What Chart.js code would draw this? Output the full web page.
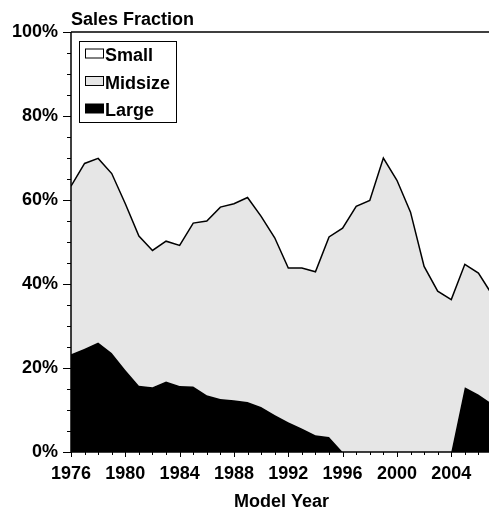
<!DOCTYPE html>
<html>
<head>
<meta charset="utf-8">
<script src="https://cdn.jsdelivr.net/npm/chart.js@4.4.1/dist/chart.umd.min.js"></script>
<style>
  html, body { margin: 0; padding: 0; background: #fff; overflow: hidden; }
  #wrap { width: 493px; height: 512px; }
</style>
</head>
<body>
<div id="wrap"><canvas id="salesChart" width="493" height="512"></canvas></div>
<script>
// model years
const years = [1976, 1977, 1978, 1979, 1980, 1981, 1982, 1983, 1984, 1985, 1986,
    1987, 1988, 1989, 1990, 1991, 1992, 1993, 1994, 1995, 1996, 1997, 1998, 1999,
    2000, 2001, 2002, 2003, 2004, 2005, 2006, 2007];

// sales fraction (%) per size class, bottom to top
const large = [23.3, 24.6, 26.1, 23.6, 19.5, 15.8, 15.4, 16.8, 15.7, 15.6, 13.5,
    12.6, 12.3, 11.9, 10.7, 8.8, 7.1, 5.6, 4.0, 3.6, 0, 0, 0, 0,
    0, 0, 0, 0, 0, 15.4, 13.7, 11.5];
const midsize = [40.0, 44.1, 43.8, 42.7, 39.6, 35.6, 32.6, 33.4, 33.5, 38.9, 41.5,
    45.7, 46.8, 48.7, 45.4, 42.2, 36.7, 38.2, 38.9, 47.6, 53.3, 58.5, 59.9, 70.0,
    64.7, 57.1, 44.2, 38.3, 36.3, 29.3, 28.9, 26.0];
const small = [36.7, 31.3, 30.1, 33.7, 40.9, 48.6, 52.0, 49.8, 50.8, 45.5, 45.0,
    41.7, 40.9, 39.4, 43.9, 49.0, 56.2, 56.2, 57.1, 48.8, 46.7, 41.5, 40.1, 30.0,
    35.3, 42.9, 55.8, 61.7, 63.7, 55.3, 57.4, 62.5];

// legend order as shown in the box
const legendLabels = ['Small', 'Midsize', 'Large'];

const FAMILY = '"Liberation Sans", Arial, sans-serif';
const FONT = 'bold 18px ' + FAMILY;

const toPoints = arr => arr.map((v, i) => ({ x: years[i], y: v }));

// tick marks, frame, title and legend box
const extras = {
    id: 'extras',
    afterDraw(chart) {
        const ctx = chart.ctx;
        const xs = chart.scales.x, ys = chart.scales.y;
        const area = chart.chartArea;
        ctx.save();
        ctx.strokeStyle = '#000';
        ctx.lineWidth = 1.5;

        // frame: left, bottom, top
        ctx.beginPath();
        ctx.moveTo(area.left, area.top);
        ctx.lineTo(area.left, area.bottom);
        ctx.lineTo(area.right + 2, area.bottom);
        ctx.moveTo(area.left, area.top);
        ctx.lineTo(area.right + 2, area.top);
        ctx.stroke();

        // y ticks every 5%
        ctx.lineWidth = 1;
        ctx.beginPath();
        for (let v = 0; v <= 100; v += 5) {
            const py = Math.round(ys.getPixelForValue(v)) + 0.5;
            const len = v % 20 === 0 ? 8 : 4;
            ctx.moveTo(area.left - len, py);
            ctx.lineTo(area.left, py);
        }
        // x ticks every year
        for (let yr = years[0]; yr <= years[years.length - 1]; yr++) {
            const px = Math.round(xs.getPixelForValue(yr)) + 0.5;
            const len = yr % 4 === 0 ? 5 : 3;
            ctx.moveTo(px, area.bottom);
            ctx.lineTo(px, area.bottom + len);
        }
        ctx.stroke();

        // title above the axis
        ctx.font = FONT;
        ctx.fillStyle = '#000';
        ctx.textBaseline = 'alphabetic';
        ctx.textAlign = 'left';
        ctx.fillText('Sales Fraction', area.left, 25);

        // legend box
        ctx.fillStyle = '#fff';
        ctx.fillRect(79.5, 41.5, 97, 81);
        ctx.strokeStyle = '#000';
        ctx.lineWidth = 1;
        ctx.strokeRect(79.5, 41.5, 97, 81);
        legendLabels.forEach((lbl, i) => {
            const ds = chart.data.datasets.find(d => d.label === lbl);
            const base = 61 + i * 27.5;
            ctx.fillStyle = ds.backgroundColor;
            ctx.fillRect(85.5, base - 12, 18, 9);
            ctx.strokeRect(85.5, base - 12, 18, 9);
            ctx.fillStyle = '#000';
            ctx.fillText(lbl, 105, base);
        });
        ctx.restore();
    }
};

new Chart(document.getElementById('salesChart'), {
    type: 'line',
    data: {
        datasets: [
            {
                label: 'Large',
                data: toPoints(large),
                backgroundColor: '#000000',
                borderColor: '#000000',
                borderWidth: 0,
                fill: 'origin'
            },
            {
                label: 'Midsize',
                data: toPoints(midsize),
                backgroundColor: '#e6e6e6',
                borderColor: '#000000',
                borderWidth: 1.5,
                fill: '-1'
            },
            {
                label: 'Small',
                data: toPoints(small),
                backgroundColor: '#ffffff',
                borderColor: '#ffffff',
                borderWidth: 0,
                fill: '-1'
            }
        ]
    },
    options: {
        responsive: false,
        animation: false,
        devicePixelRatio: 1,
        elements: { point: { radius: 0 }, line: { tension: 0 } },
        layout: { padding: { top: 32, left: 0, right: 1, bottom: 0 } },
        plugins: { legend: { display: false }, tooltip: { enabled: false } },
        scales: {
            x: {
                type: 'linear',
                min: 1976,
                max: 2007,
                grid: { display: false, drawTicks: false },
                border: { display: false },
                afterFit: s => {
                    s.height = 60;
                    s.paddingLeft = 0;
                    s.paddingRight = 0;
                },
                ticks: {
                    stepSize: 1,
                    autoSkip: false,
                    maxRotation: 0,
                    padding: 11,
                    color: '#000',
                    font: { family: FAMILY, size: 18, weight: 'bold' },
                    callback: v => (v % 4 === 0 ? String(v) : '')
                },
                title: {
                    display: true,
                    text: 'Model Year',
                    color: '#000',
                    padding: 0,
                    font: { family: FAMILY, size: 18, weight: 'bold', lineHeight: 1.1 }
                }
            },
            y: {
                stacked: true,
                min: 0,
                max: 100,
                grid: { display: false, drawTicks: false },
                border: { display: false },
                afterFit: s => { s.width = 71; },
                ticks: {
                    stepSize: 5,
                    autoSkip: false,
                    padding: 13,
                    color: '#000',
                    font: { family: FAMILY, size: 18, weight: 'bold' },
                    callback: v => (v % 20 === 0 ? v + '%' : '')
                }
            }
        }
    },
    plugins: [extras]
});
</script>
</body>
</html>
